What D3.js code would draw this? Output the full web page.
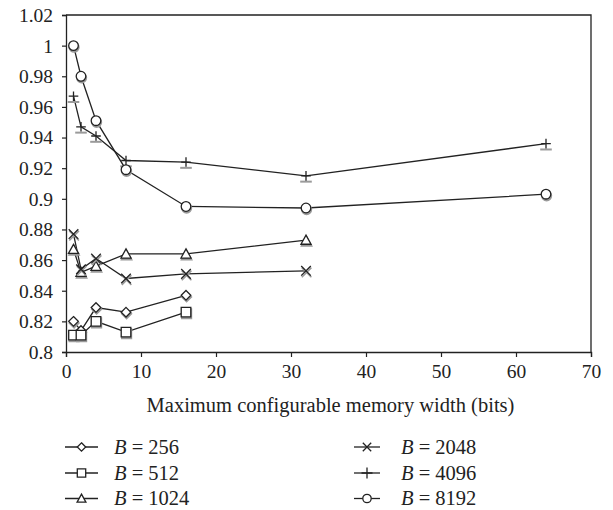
<!DOCTYPE html>
<html>
<head>
<meta charset="utf-8">
<script src="https://cdn.jsdelivr.net/npm/d3@7"></script>
<style>
  body { margin: 0; background: #fff; }
  text { font-family: "Liberation Serif", "Times New Roman", serif; fill: #222; }
</style>
</head>
<body>
<svg id="chart" width="613" height="510"></svg>
<script>
// Memory widths (bits) on the x axis
const widths = [1, 2, 4, 8, 16, 32, 64];

// Series labels (block count B)
const blockSizes = ["256", "512", "1024", "2048", "4096", "8192"];
const markerKinds = ["diamond", "square", "triangle", "cross", "plus", "circle"];

// Normalised results per series, one value per memory width
const b256  = [0.820, 0.814, 0.829, 0.826, 0.837];
const b512  = [0.811, 0.811, 0.820, 0.813, 0.826];
const b1024 = [0.867, 0.852, 0.856, 0.864, 0.864, 0.873];
const b2048 = [0.877, 0.854, 0.861, 0.848, 0.851, 0.853];
const b4096 = [0.967, 0.947, 0.941, 0.925, 0.924, 0.915, 0.936];
const b8192 = [1.000, 0.980, 0.951, 0.919, 0.895, 0.894, 0.903];

const seriesValues = [b256, b512, b1024, b2048, b4096, b8192];

// Axis ticks
const xTicks = [0, 10, 20, 30, 40, 50, 60, 70];
const yTicks = [0.8, 0.82, 0.84, 0.86, 0.88, 0.9, 0.92, 0.94, 0.96, 0.98, 1, 1.02];

const svg = d3.select("#chart");
const ink = "#222";
const shade = "#9a9a9a";

const plot = { left: 66, right: 591, top: 15, bottom: 352 };

const x = d3.scaleLinear().domain([0, 70]).range([plot.left, plot.right]);
const y = d3.scaleLinear().domain([0.8, 1.02]).range([plot.bottom, plot.top]);

// Marker outlines, centred on the origin
function markerPath(kind, s) {
  switch (kind) {
    case "diamond":  return `M0,${-s}L${s},0L0,${s}L${-s},0Z`;
    case "square":   return `M${-s},${-s}H${s}V${s}H${-s}Z`;
    case "triangle": return `M0,${-s * 1.05}L${s * 1.05},${s * 0.85}L${-s * 1.05},${s * 0.85}Z`;
    case "cross":    return `M${-s},${-s}L${s},${s}M${s},${-s}L${-s},${s}`;
    case "plus":     return `M${-s},0H${s}M0,${-s}V${s}`;
    case "circle":   return `M${s},0A${s},${s} 0 1,1 ${-s},0A${s},${s} 0 1,1 ${s},0Z`;
  }
}
const isOpenStroke = k => k === "cross" || k === "plus";

function drawMarker(g, kind, cx, cy, s, withShadow) {
  const m = g.append("g").attr("transform", `translate(${cx},${cy})`);
  if (withShadow) {
    if (kind === "plus") {
      m.append("path").attr("d", `M${-s - 1},${s + 1}H${s + 1}`)
        .attr("stroke", shade).attr("stroke-width", 2).attr("fill", "none");
    } else {
      m.append("path").attr("d", markerPath(kind, s))
        .attr("transform", "translate(0.6,1.6)")
        .attr("fill", isOpenStroke(kind) ? "none" : shade)
        .attr("stroke", shade).attr("stroke-width", 1.6);
    }
  }
  m.append("path").attr("d", markerPath(kind, s))
    .attr("fill", isOpenStroke(kind) ? "none" : "#fff")
    .attr("stroke", ink).attr("stroke-width", 1.3);
}

// Axes
const xAxis = d3.axisBottom(x).tickValues(xTicks).tickSize(5).tickPadding(7).tickFormat(d3.format("d"));
const yAxis = d3.axisLeft(y).tickValues(yTicks).tickSize(4).tickPadding(9)
  .tickFormat(d => String(+d.toFixed(2)));

const gx = svg.append("g").attr("transform", `translate(0,${plot.bottom})`).call(xAxis);
const gy = svg.append("g").attr("transform", `translate(${plot.left},0)`).call(yAxis);

[gx, gy].forEach(g => {
  g.select(".domain").attr("stroke", ink).attr("stroke-width", 1.3);
  g.selectAll(".tick line").attr("stroke", ink).attr("stroke-width", 1.2);
  g.selectAll(".tick text").style("font-family", '"Liberation Serif", serif')
    .style("font-size", "19.5px").attr("fill", ink);
});
gy.selectAll(".tick text").attr("dy", "0.33em");

// Top and right frame lines
svg.append("path")
  .attr("d", `M${plot.left},${plot.top}H${plot.right}V${plot.bottom}`)
  .attr("fill", "none").attr("stroke", ink).attr("stroke-width", 1.3);

// Axis title
svg.append("text")
  .attr("x", (plot.left + plot.right) / 2 + 2).attr("y", 412)
  .attr("text-anchor", "middle").style("font-size", "20.5px")
  .text("Maximum configurable memory width (bits)");

// Series lines then markers
const line = d3.line().x((d, i) => x(widths[i])).y(d => y(d));
const seriesG = svg.append("g");
seriesValues.forEach(vals => {
  seriesG.append("path").attr("d", line(vals))
    .attr("fill", "none").attr("stroke", ink).attr("stroke-width", 1.3);
});
seriesValues.forEach((vals, si) => {
  vals.forEach((v, i) => drawMarker(seriesG, markerKinds[si], x(widths[i]), y(v), 4.8, true));
});

// Legend: two columns of three rows
const legendRows = [447, 473, 498.5];
const legendCols = [
  { center: 81.5, half: 16.5, textX: 114 },
  { center: 367,  half: 13,   textX: 401 }
];
blockSizes.forEach((b, i) => {
  const col = legendCols[Math.floor(i / 3)];
  const ry = legendRows[i % 3];
  const g = svg.append("g");
  g.append("line").attr("x1", col.center - col.half).attr("x2", col.center + col.half)
    .attr("y1", ry).attr("y2", ry).attr("stroke", ink).attr("stroke-width", 1.3);
  drawMarker(g, markerKinds[i], col.center, ry, markerKinds[i] === "plus" ? 5.5 : 4.2, false);
  const t = g.append("text").attr("x", col.textX).attr("y", ry + 6.5).style("font-size", "20.5px");
  t.append("tspan").style("font-style", "italic").text("B");
  t.append("tspan").text(" = " + b);
});
</script>
</body>
</html>
